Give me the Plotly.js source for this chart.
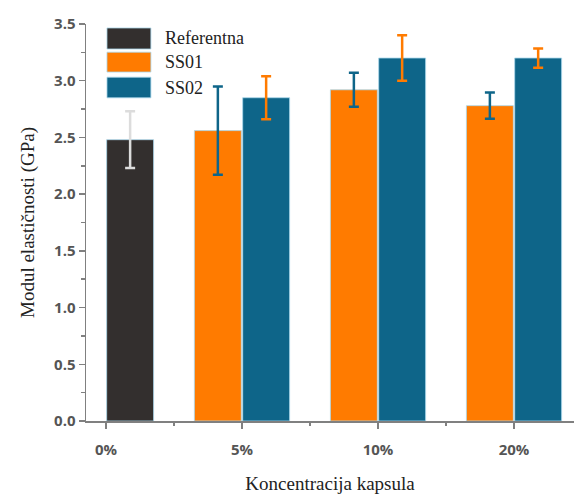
<!DOCTYPE html>
<html>
<head>
<meta charset="utf-8">
<script src="https://cdn.plot.ly/plotly-3.0.1.min.js"></script>
<style>html,body{margin:0;padding:0;background:#fff;}#chart{width:575px;height:494px;}</style>
</head>
<body>
<div id="chart"></div>
<script>
const categories = ["0%", "5%", "10%", "20%"];
const seriesNames = ["Referentna", "SS01", "SS02"];
const refValues = [2.48, null, null, null];
const refErrors = [0.25, null, null, null];
const ss01Values = [null, 2.56, 2.92, 2.78];
const ss01Errors = [null, 0.39, 0.15, 0.115];
const ss02Values = [null, 2.85, 3.20, 3.20];
const ss02Errors = [null, 0.19, 0.20, 0.085];

const colRef = "#332f2e", colOrange = "#ff7b00", colBlue = "#0e6589";
const xPos = categories.map((c, i) => i);
const edge = {color: "rgba(170,215,235,0.8)", width: 1};

function barTrace(name, vals, errs, color, errColor, offset) {
  return {
    type: "bar", name: name, x: xPos, y: vals,
    width: 0.345, offset: offset,
    marker: {color: color, line: edge},
    error_y: {type: "data", array: errs, visible: true, color: errColor, thickness: 2.5, width: 5},
    showlegend: false, hoverinfo: "skip"
  };
}

const data = [
  barTrace(seriesNames[0], refValues, refErrors, colRef, "#dcdcdc", 0.005),
  barTrace(seriesNames[1], ss01Values, ss01Errors, colOrange, colBlue, -0.35),
  barTrace(seriesNames[2], ss02Values, ss02Errors, colBlue, colOrange, 0.005)
];

const legendColors = [colRef, colOrange, colBlue];
const boxY = [[0.990, 0.937], [0.929, 0.879], [0.866, 0.814]];
const shapes = boxY.map((b, i) => ({
  type: "rect", xref: "paper", yref: "paper", x0: 0.043, x1: 0.133, y0: b[1], y1: b[0],
  fillcolor: legendColors[i], line: {color: "rgba(170,215,235,0.8)", width: 1}
}));
const annotations = boxY.map((b, i) => ({
  xref: "paper", yref: "paper", x: 0.158, y: (b[0] + b[1]) / 2, xanchor: "left", yanchor: "middle",
  text: seriesNames[i], showarrow: false,
  font: {family: "Liberation Serif, serif", size: 18, color: "#222"}
}));

const tickFont = {family: "Open Sans, sans-serif", size: 15, color: "#555", weight: 700};
const layout = {
  width: 575, height: 494,
  margin: {l: 86, r: 1, t: 24, b: 73},
  paper_bgcolor: "#fff", plot_bgcolor: "#fff",
  bargap: 0,
  xaxis: {
    range: [-0.147, 3.441], tickmode: "array", tickvals: xPos, ticktext: categories,
    showgrid: false, zeroline: false, showline: true, linecolor: "#808080", linewidth: 1.5,
    ticks: "outside", ticklen: 6, tickcolor: "#808080", tickwidth: 1.5,
    ticklabelstandoff: 8,
    minor: {dtick: 0.5, tick0: 0, ticks: "outside", ticklen: 3, tickcolor: "#808080", tickwidth: 1.5, showgrid: false},
    tickfont: tickFont, fixedrange: true,
    title: {text: "Koncentracija kapsula", font: {family: "Liberation Serif, serif", size: 19, color: "#222"}, standoff: 20}
  },
  yaxis: {
    range: [0, 3.5], dtick: 0.5, tickformat: ".1f",
    showgrid: false, zeroline: false, showline: true, linecolor: "#808080", linewidth: 1.5,
    ticks: "outside", ticklen: 6, tickcolor: "#808080", tickwidth: 1.5,
    minor: {dtick: 0.25, ticks: "outside", ticklen: 4, tickcolor: "#808080", tickwidth: 1.5, showgrid: false},
    tickfont: tickFont, fixedrange: true,
    title: {text: "Modul elastičnosti (GPa)", font: {family: "Liberation Serif, serif", size: 19, color: "#222"}, standoff: 14}
  },
  shapes: shapes,
  annotations: annotations,
  showlegend: false
};

Plotly.newPlot("chart", data, layout, {displayModeBar: false, staticPlot: true});
</script>
</body>
</html>
